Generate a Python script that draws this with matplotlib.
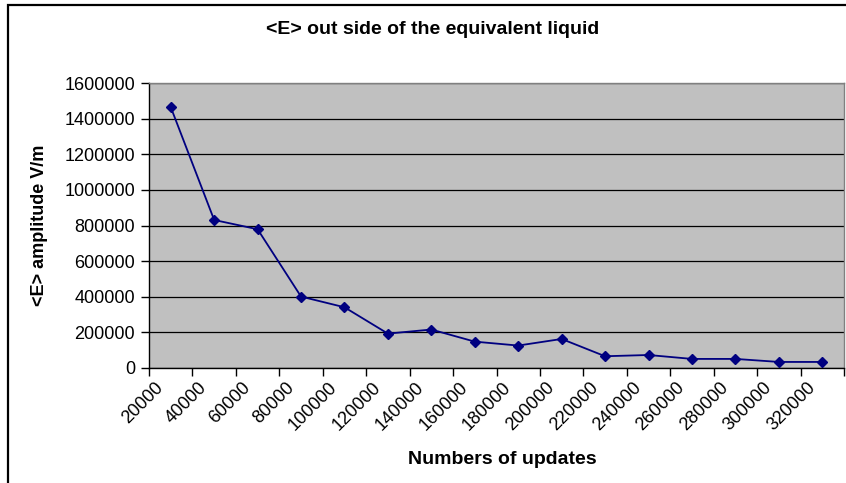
import matplotlib.pyplot as plt
from matplotlib.patches import Rectangle
from matplotlib import transforms

plt.rcParams['font.family'] = ['Liberation Sans', 'DejaVu Sans']

# number of updates (points sit between the axis ticks)
updates = [30000, 50000, 70000, 90000, 110000, 130000, 150000, 170000,
           190000, 210000, 230000, 250000, 270000, 290000, 310000, 330000]
amplitude = [1465000, 831000, 779000, 401000, 341000, 193000, 216000, 148000,
             126000, 163000, 66000, 73000, 51000, 51000, 34000, 34000]
x_ticks = list(range(20000, 340001, 20000))
y_ticks = list(range(0, 1600001, 200000))

fig = plt.figure(figsize=(8.46, 4.83), dpi=100)
ax = fig.add_axes([149 / 846, 1 - 368 / 483, (844 - 149) / 846, (368 - 83) / 483])

# chart frame
fig.patches.append(Rectangle((7.5 / 846, -0.1), 1.2, 1 - 5 / 483 + 0.1,
                             transform=fig.transFigure, fill=False,
                             edgecolor='black', linewidth=1.6))

ax.set_facecolor('#C0C0C0')
ax.plot(updates, amplitude, color='#000080', linewidth=1.3,
        marker='D', markersize=5.5, markerfacecolor='#000080',
        markeredgecolor='#000080', zorder=3)

ax.set_xlim(20000, 340000)
ax.set_ylim(0, 1600000)
ax.set_yticks(y_ticks)
ax.set_yticklabels([str(v) for v in y_ticks], fontsize=13)
ax.yaxis.grid(True, color='black', linewidth=0.9)
ax.set_axisbelow(True)

ax.set_xticks(x_ticks)
ax.set_xticklabels([])
offset = transforms.ScaledTranslation(12 / 100, -17 / 100, fig.dpi_scale_trans)
for t in x_ticks[:-1]:
    ax.text(t, 0, str(t), rotation=45, ha='right', va='center',
            rotation_mode='anchor', fontsize=13,
            transform=ax.get_xaxis_transform() + offset)

ax.tick_params(axis='both', direction='out', length=6, width=1, color='black')
ax.tick_params(axis='y', pad=4)

for side in ['left', 'bottom']:
    ax.spines[side].set_color('black')
    ax.spines[side].set_linewidth(1)
for side in ['top', 'right']:
    ax.spines[side].set_color('#808080')
    ax.spines[side].set_linewidth(1)

fig.text(433 / 846, 1 - 30 / 483, '<E> out side of the equivalent liquid',
         ha='center', va='center', fontsize=14, fontweight='bold')
fig.text(40 / 846, 1 - 225 / 483, '<E> amplitude V/m', rotation=90,
         ha='center', va='center', fontsize=13, fontweight='bold')
fig.text(502 / 846, 1 - 459 / 483, 'Numbers of updates',
         ha='center', va='center', fontsize=14, fontweight='bold')

fig.savefig('out.png', dpi=100)
